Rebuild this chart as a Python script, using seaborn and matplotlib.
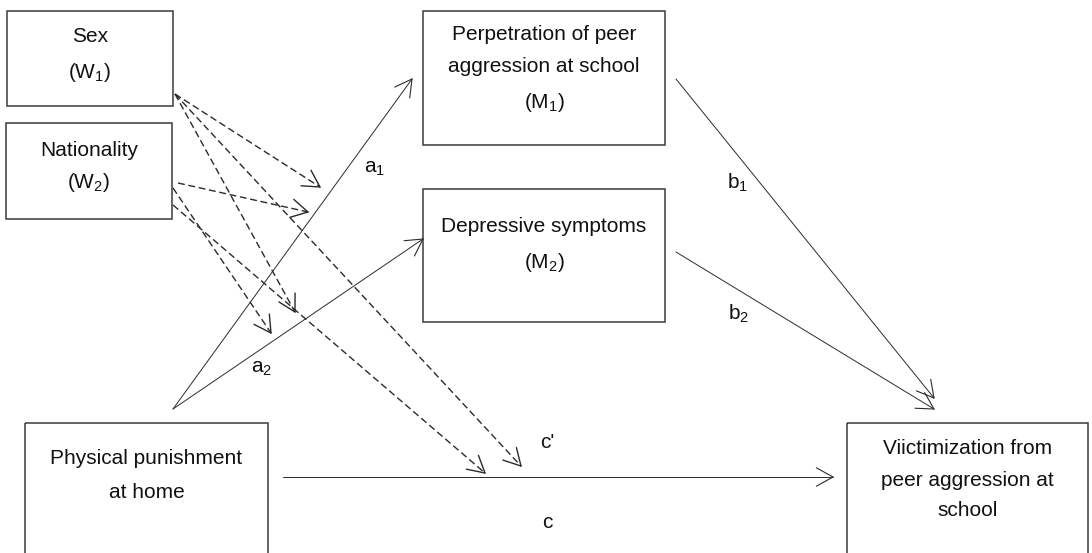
import numpy as np
import matplotlib.pyplot as plt
import seaborn as sns

# Boxes of the path model (pixel space, y grows downward)
box_names = ["sex", "nationality", "perpetration", "depressive", "punishment", "victimization"]
box_x0 = [7, 6, 423, 423, 25, 847]
box_y0 = [11, 123, 11, 189, 423, 423]
box_x1 = [173, 172, 665, 665, 268, 1088]
box_y1 = [106, 219, 145, 322, 600, 600]

box_lines = [
    ["Sex", "(W$_1$)"],
    ["Nationality", "(W$_2$)"],
    ["Perpetration of peer", "aggression at school", "(M$_1$)"],
    ["Depressive symptoms", "(M$_2$)"],
    ["Physical punishment", "at home"],
    ["Viictimization from", "peer aggression at", "school"],
]
box_line_y = [
    [37, 72],
    [150, 183],
    [35, 67, 102],
    [227, 262],
    [458, 492],
    [448, 480, 510],
]

# Direct / mediated paths (solid arrows)
path_names = ["a1", "a2", "b1", "b2", "c"]
path_start = [(173, 409), (173, 409), (676, 79), (676, 252), (283, 477)]
path_end = [(412, 79), (423, 239), (934, 398), (934, 409), (833, 477)]

# Moderation paths (dashed arrows), from W1 / W2 towards a1, a2, c'
mod_start = [(175, 94), (175, 94), (175, 94), (178, 183), (173, 188), (173, 205)]
mod_end = [(320, 187), (295, 312), (521, 466), (308, 212), (271, 333), (485, 473)]

# Path coefficient labels
coef_labels = ["a$_1$", "a$_2$", "b$_1$", "b$_2$", "c'", "c"]
coef_x = [375, 262, 738, 739, 547, 547]
coef_y = [168, 369, 183, 314, 442, 522]

sns.set_theme(style="white")
plt.rcParams["font.family"] = ["Liberation Sans", "DejaVu Sans"]
plt.rcParams["mathtext.fontset"] = "custom"
plt.rcParams["mathtext.rm"] = "Liberation Sans"
plt.rcParams["mathtext.default"] = "regular"

ink = "#2b2b2b"
fig = plt.figure(figsize=(10.92, 5.53), dpi=100)
ax = fig.add_axes([0, 0, 1, 1])
ax.set_xlim(0, 1092)
ax.set_ylim(553, 0)
ax.axis("off")


def draw_arrow(p0, p1, dashed=False):
    """Line with an open arrowhead at p1."""
    x0, y0 = p0
    x1, y1 = p1
    ls = (0, (5, 2.6)) if dashed else "-"
    ax.plot([x0, x1], [y0, y1], color=ink, lw=1.0 if dashed else 0.7, linestyle=ls)
    back = np.arctan2(y0 - y1, x0 - x1)
    head_len = 19
    for da in (np.radians(29), -np.radians(29)):
        ax.plot([x1, x1 + head_len * np.cos(back + da)],
                [y1, y1 + head_len * np.sin(back + da)],
                color=ink, lw=1.0 if dashed else 0.8)


for x0, y0, x1, y1 in zip(box_x0, box_y0, box_x1, box_y1):
    ax.add_patch(plt.Rectangle((x0, y0), x1 - x0, y1 - y0, fill=False,
                               edgecolor="#3a3a3a", lw=1.1))

for x0, x1, lines, ys in zip(box_x0, box_x1, box_lines, box_line_y):
    cx = (x0 + x1) / 2
    for txt, ty in zip(lines, ys):
        ax.text(cx, ty, txt, ha="center", va="center", fontsize=15, color="#111111")

for p0, p1 in zip(path_start, path_end):
    draw_arrow(p0, p1)

for p0, p1 in zip(mod_start, mod_end):
    draw_arrow(p0, p1, dashed=True)

for lab, x, y in zip(coef_labels, coef_x, coef_y):
    ax.text(x, y, lab, ha="center", va="center", fontsize=15, color="#111111")

fig.savefig("out.png", dpi=100)
plt.close(fig)
